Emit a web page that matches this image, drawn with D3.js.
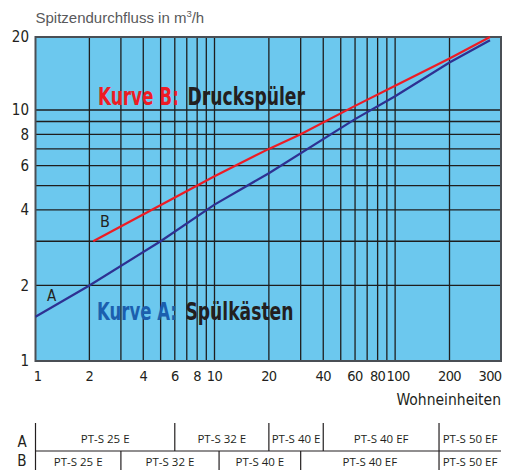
<!DOCTYPE html>
<html>
<head>
<meta charset="utf-8">
<script src="https://cdn.jsdelivr.net/npm/d3@7"></script>
<style>
  body { margin: 0; background: #fff; }
  svg { display: block; }
</style>
</head>
<body>
<div id="chart"></div>
<script>
// Kurven (x = Wohneinheiten, y = Spitzendurchfluss m3/h)
const curveA_x = [1, 2, 5, 10, 20, 60, 100, 200, 300];
const curveA_y = [1.5, 2, 3, 4.2, 5.6, 9.2, 11.4, 15.7, 19.4];
const curveB_x = [2.1, 10, 20, 30, 60, 100, 200, 300];
const curveB_y = [3, 5.45, 7, 8, 10.4, 12.6, 16.3, 20];

const xTicks = [1, 2, 4, 6, 8, 10, 20, 40, 60, 80, 100, 200, 300];
const yTicks = [1, 2, 4, 6, 8, 10, 20];
const xGrid = [2, 3, 4, 5, 6, 7, 8, 9, 10, 20, 30, 40, 50, 60, 70, 80, 90, 100, 200];
const yGrid = [2, 3, 4, 5, 6, 7, 8, 9, 10];

// Tabelle unten
const rowA_bounds = [1, 6, 20, 40, 175];
const rowA_labels = ["PT-S 25 E", "PT-S 32 E", "PT-S 40 E", "PT-S 40 EF", "PT-S 50 EF"];
const rowB_bounds = [1, 3, 10.6, 30, 175];
const rowB_labels = ["PT-S 25 E", "PT-S 32 E", "PT-S 40 E", "PT-S 40 EF", "PT-S 50 EF"];

const width = 512, height = 470;
const plotRight = 501;

const narrow = "'Liberation Sans Narrow', 'DejaVu Sans Condensed', sans-serif";

const svg = d3.select("#chart")
  .append("svg")
    .attr("width", width)
    .attr("height", height);

// Skalen (Original ist nicht ganz sauber logarithmisch, daher stückweise)
const x = d3.scaleLog()
  .domain([1, 10, 200, 300])
  .range([35.5, 214.5, 449.5, 490]);

const y = d3.scaleLog()
  .domain([1, 10, 20])
  .range([361, 110, 37]);

// Hintergrund
svg.append("rect")
  .attr("x", x(1))
  .attr("y", y(20))
  .attr("width", plotRight - x(1))
  .attr("height", y(1) - y(20))
  .attr("fill", "#6cc8ee");

// Gitterlinien
svg.append("g")
  .selectAll("line")
  .data(xGrid)
  .join("line")
    .attr("x1", d => x(d))
    .attr("x2", d => x(d))
    .attr("y1", y(20))
    .attr("y2", y(1))
    .attr("stroke", "#1e1e1e")
    .attr("stroke-width", 1.3);

svg.append("g")
  .selectAll("line")
  .data(yGrid)
  .join("line")
    .attr("x1", x(1))
    .attr("x2", plotRight)
    .attr("y1", d => y(d))
    .attr("y2", d => y(d))
    .attr("stroke", "#1e1e1e")
    .attr("stroke-width", 1.3);

// Rahmen
svg.append("rect")
  .attr("x", x(1))
  .attr("y", y(20))
  .attr("width", plotRight - x(1))
  .attr("height", y(1) - y(20))
  .attr("fill", "none")
  .attr("stroke", "#4a4f55")
  .attr("stroke-width", 2);

// Kurven
const line = d3.line()
  .x(d => x(d[0]))
  .y(d => y(d[1]));

svg.append("path")
  .datum(d3.zip(curveA_x, curveA_y))
  .attr("d", line)
  .attr("fill", "none")
  .attr("stroke", "#2e3192")
  .attr("stroke-width", 2.2);

svg.append("path")
  .datum(d3.zip(curveB_x, curveB_y))
  .attr("d", line)
  .attr("fill", "none")
  .attr("stroke", "#ed1c24")
  .attr("stroke-width", 2.2);

// Kurvenbuchstaben
svg.append("text")
  .attr("x", 51.5).attr("y", 300.5)
  .attr("text-anchor", "middle")
  .style("font-family", narrow)
  .style("font-size", "15px")
  .attr("fill", "#231f20")
  .text("A");

svg.append("text")
  .attr("x", 105).attr("y", 227)
  .attr("text-anchor", "middle")
  .style("font-family", narrow)
  .style("font-size", "16px")
  .attr("fill", "#231f20")
  .text("B");

// Große Beschriftungen: schmal gestaucht, damit die Breite passt
function bigLabel(str, xPos, yPos, len, color) {
  const t = svg.append("text")
    .style("font-family", narrow)
    .style("font-weight", "bold")
    .style("font-size", "25px")
    .attr("fill", color)
    .text(str);
  const natural = t.node().getComputedTextLength();
  t.attr("transform", `translate(${xPos},${yPos}) scale(${len / natural},1)`);
}
bigLabel("Kurve B:", 98, 105, 81, "#ed1c24");
bigLabel("Druckspüler", 187.5, 105, 117.5, "#231f20");
bigLabel("Kurve A:", 97, 320, 80, "#1b5fae");
bigLabel("Spülkästen", 185.5, 320, 108, "#231f20");

// Achsenbeschriftungen
svg.append("g")
  .selectAll("text")
  .data(yTicks)
  .join("text")
    .attr("x", 29)
    .attr("y", d => y(d))
    .attr("dy", "0.36em")
    .attr("text-anchor", "end")
    .style("font-family", narrow)
    .style("font-size", "15px")
    .attr("fill", "#231f20")
    .text(d => d);

svg.append("g")
  .selectAll("text")
  .data(xTicks)
  .join("text")
    .attr("x", d => x(d) + (d === 1 ? 2 : d === 100 ? 3 : 0))
    .attr("y", 381)
    .attr("text-anchor", "middle")
    .style("font-family", narrow)
    .style("font-size", "14.5px")
    .style("letter-spacing", "-0.6px")
    .attr("fill", "#231f20")
    .text(d => d);

svg.append("text")
  .attr("x", plotRight)
  .attr("y", 405)
  .attr("text-anchor", "end")
  .style("font-family", narrow)
  .style("font-size", "15.5px")
  .attr("fill", "#231f20")
  .text("Wohneinheiten");

const title = svg.append("text")
  .attr("x", 35.5)
  .attr("y", 23)
  .style("font-family", "'Liberation Sans', Arial, sans-serif")
  .style("font-size", "15px")
  .attr("fill", "#58595b");
title.append("tspan").text("Spitzendurchfluss in m");
title.append("tspan").attr("dy", -6).style("font-size", "9.5px").text("3");
title.append("tspan").attr("dy", 6).text("/h");

// Tabelle
function drawRow(bounds, labels, rowName, yTop, yBottom, textY, nameY) {
  const g = svg.append("g");
  const edges = bounds.map(d => x(d)).concat([plotRight]);

  g.selectAll("line")
    .data(bounds)
    .join("line")
      .attr("x1", d => x(d))
      .attr("x2", d => x(d))
      .attr("y1", yTop)
      .attr("y2", yBottom)
      .attr("stroke", "#231f20")
      .attr("stroke-width", 1.2);

  g.selectAll("text.cell")
    .data(labels)
    .join("text")
      .attr("class", "cell")
      .attr("x", (d, i) => (edges[i] + edges[i + 1]) / 2)
      .attr("y", textY)
      .attr("text-anchor", "middle")
      .style("font-family", "'Open Sans', 'Noto Sans', sans-serif")
      .style("font-size", "11.5px")
      .attr("fill", "#231f20")
      .text(d => d);

  g.append("text")
    .attr("x", 22)
    .attr("y", nameY)
    .attr("text-anchor", "middle")
    .style("font-family", narrow)
    .style("font-size", "15px")
    .attr("fill", "#231f20")
    .text(rowName);
}

drawRow(rowA_bounds, rowA_labels, "A", 423, 451, 443, 447);
drawRow(rowB_bounds, rowB_labels, "B", 451, 470, 466, 466);

svg.append("line")
  .attr("x1", x(1))
  .attr("x2", plotRight)
  .attr("y1", 451)
  .attr("y2", 451)
  .attr("stroke", "#231f20")
  .attr("stroke-width", 1.2);
</script>
</body>
</html>
